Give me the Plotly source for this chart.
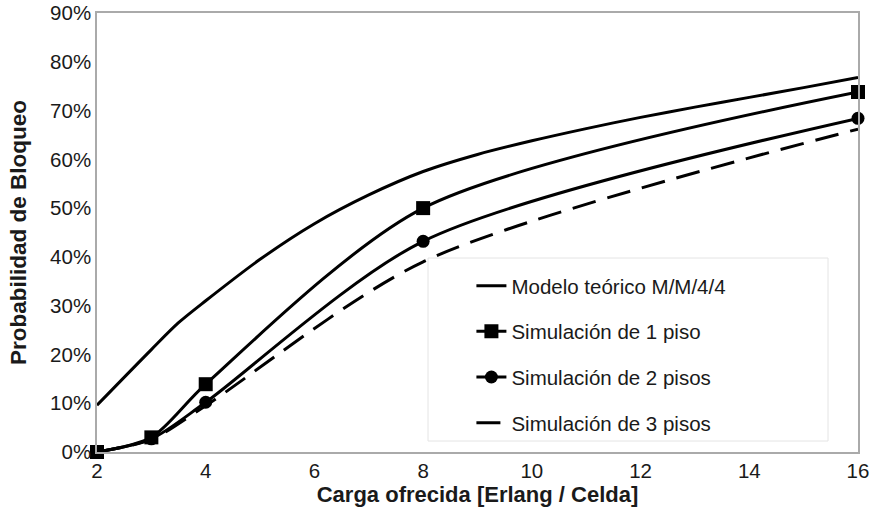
import plotly.graph_objects as go

# Data
x_teo = [2, 3, 3.5, 4, 5, 6, 7, 8, 9, 10, 11, 12, 13, 14, 15, 16]
y_teo = [0.096, 0.21, 0.265, 0.31, 0.395, 0.468, 0.527, 0.575, 0.61, 0.638, 0.663, 0.686, 0.707, 0.727, 0.747, 0.768]

x_sim = [2, 3, 4, 8, 16]
y_sim1 = [0.0, 0.03, 0.139, 0.50, 0.738]
y_sim2 = [0.0, 0.027, 0.102, 0.432, 0.684]
y_sim3 = [0.0, 0.026, 0.095, 0.39, 0.662]

names = ["Modelo teórico M/M/4/4", "Simulación de 1 piso", "Simulación de 2 pisos", "Simulación de 3 pisos"]
x_ticks = [2, 4, 6, 8, 10, 12, 14, 16]
y_ticks = [0, 0.1, 0.2, 0.3, 0.4, 0.5, 0.6, 0.7, 0.8, 0.9]

FONT = "Liberation Sans, Arial, sans-serif"
fig = go.Figure()
fig.add_trace(go.Scatter(x=x_teo, y=y_teo, name=names[0], mode="lines",
                         line=dict(color="black", width=3, shape="spline", smoothing=0.8),
                         legendgroup="a", cliponaxis=False))
fig.add_trace(go.Scatter(x=x_sim, y=y_sim1, name=names[1], mode="lines+markers",
                         line=dict(color="black", width=3, shape="spline", smoothing=0.8),
                         marker=dict(symbol="square", size=14, color="black"),
                         legendgroup="b", cliponaxis=False))
fig.add_trace(go.Scatter(x=x_sim, y=y_sim2, name=names[2], mode="lines+markers",
                         line=dict(color="black", width=3, shape="spline", smoothing=0.8),
                         marker=dict(symbol="circle", size=13, color="black"),
                         legendgroup="c", cliponaxis=False))
fig.add_trace(go.Scatter(x=x_sim, y=y_sim3, name=names[3], mode="lines",
                         line=dict(color="black", width=3, shape="spline", smoothing=0.8, dash="24px,12px"),
                         legendgroup="d", cliponaxis=False))

fig.update_layout(
    width=875, height=530,
    margin=dict(l=97, r=17, t=13, b=78),
    paper_bgcolor="white", plot_bgcolor="white",
    font=dict(family=FONT, size=20, color="#1a1a1a"),
    showlegend=True,
    legend=dict(x=0.492, y=0.424, xanchor="left", yanchor="top",
                traceorder="grouped", tracegroupgap=16,
                font=dict(family=FONT, size=20.5, color="#1a1a1a"),
                bgcolor="rgba(255,255,255,0)", borderwidth=0),
    xaxis=dict(range=[2, 16], tickvals=x_ticks, showgrid=False, zeroline=False,
               showline=True, linecolor="#aaaaaa", linewidth=1.5, mirror=True,
               ticks="", tickfont=dict(size=20.5, family=FONT), automargin=False,
               title=dict(text="<b>Carga ofrecida [Erlang / Celda]</b>", font=dict(size=22, family=FONT, color="#1a1a1a"), standoff=5)),
    yaxis=dict(range=[0, 0.9], tickvals=y_ticks, tickformat=".0%", showgrid=False, zeroline=False,
               showline=True, linecolor="#aaaaaa", linewidth=1.5, mirror=True,
               ticks="", tickfont=dict(size=20.5, family=FONT), automargin=False,
               ticklabeloverflow="allow",
               title=dict(text="<b>Probabilidad de Bloqueo</b>", font=dict(size=22.5, family=FONT, color="#1a1a1a"), standoff=17)),
    shapes=[dict(type="rect", xref="paper", yref="paper",
                 x0=(428 - 97) / 761, x1=(828 - 97) / 761,
                 y0=(452 - 441) / 439, y1=(452 - 258) / 439,
                 line=dict(color="#e4e4e4", width=1), fillcolor="rgba(0,0,0,0)", layer="below")],
)

fig.write_html("out.html", config={"displayModeBar": False},
               post_script="document.body.style.margin='0px';")
